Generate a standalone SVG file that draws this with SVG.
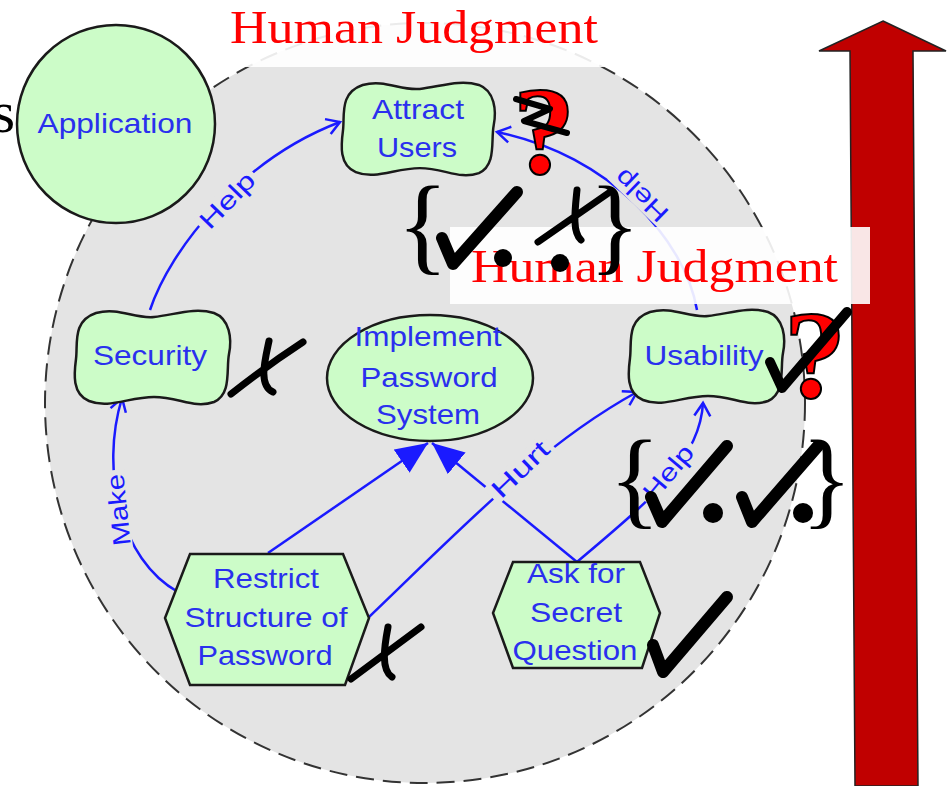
<svg xmlns="http://www.w3.org/2000/svg" xmlns:xlink="http://www.w3.org/1999/xlink" width="948" height="786" viewBox="0 0 948 786">
<defs>
<style>
.nt{font-family:"Liberation Sans",Arial,sans-serif;font-size:28px;fill:#2a30ee;text-anchor:middle;}
.lb{font-family:"Liberation Sans",Arial,sans-serif;font-size:25px;fill:#1a1aff;text-anchor:middle;}
.lbg{fill:#e4e4e4;}
.hj{font-family:"Liberation Serif","Times New Roman",serif;font-size:47px;fill:#ff0000;}
.q{font-family:"Liberation Serif","Times New Roman",serif;font-weight:bold;font-size:125px;fill:#ff0000;stroke:#000;stroke-width:2;text-anchor:middle;}
.br{font-family:"Liberation Serif","Times New Roman",serif;font-size:107px;fill:#000;}
.mk{fill:none;stroke:#000;stroke-linecap:round;stroke-linejoin:round;}
.cn{fill:none;stroke:#1a1aff;stroke-width:2.5;}
.node{fill:#ccfcc8;stroke:#1a1a1a;stroke-width:2.5;}
.box{fill:#ffffff;opacity:0.9;}
</style>
<path id="softgoal" d="M22,4 C45,-2 60,10 80,8 C100,6 120,-2 140,4 C156,10 158,30 155,45 C152,60 158,85 140,93 C120,100 105,88 80,88 C55,88 35,100 15,92 C-2,85 0,65 2,50 C4,35 -2,12 22,4 Z"/>
<marker id="open" viewBox="0 0 14 16" refX="13" refY="8" markerWidth="14" markerHeight="16" markerUnits="userSpaceOnUse" orient="auto" overflow="visible">
<path d="M0,0 L13,8 L0,16" fill="none" stroke="#1a1aff" stroke-width="2.5"/>
</marker>
<marker id="tri" viewBox="0 0 32 28" refX="32" refY="14" markerWidth="32" markerHeight="28" markerUnits="userSpaceOnUse" orient="auto">
<path d="M0,0 L32,14 L0,28 Z" fill="#1a1aff"/>
</marker>
</defs>

<rect x="0" y="0" width="948" height="786" fill="#ffffff"/>

<g id="boundary">
<circle cx="425" cy="403" r="380" fill="#e4e4e4" stroke="#333" stroke-width="2" stroke-dasharray="18 9"/>
</g>

<g id="scale-arrow">
<polygon points="883,21 946,51 913,51 918,786 855,786 850,51 819,51" fill="#c00000" stroke="#222" stroke-width="1.5"/>
</g>

<g id="connectors">
<path class="cn" d="M150,310 C170,250 240,160 340,122" marker-end="url(#open)"/>
<path class="cn" d="M697,310 C685,240 610,155 497,132" marker-end="url(#open)"/>
<path class="cn" d="M178,592 C120,560 100,470 122,398" marker-end="url(#open)"/>
<path class="cn" d="M369,617 C460,530 540,445 637,392" marker-end="url(#open)"/>
<path class="cn" d="M577,562 C650,500 700,460 703,403" marker-end="url(#open)"/>
<path class="cn" d="M268,553 L428,443" marker-end="url(#tri)"/>
<path class="cn" d="M577,562 L432,443" marker-end="url(#tri)"/>
<g transform="translate(227,200) rotate(-46)"><rect class="lbg" x="-38" y="-11" width="76" height="22"/><text class="lb" x="0" y="9" textLength="68" lengthAdjust="spacingAndGlyphs">Help</text></g>
<g transform="translate(641,196) rotate(-136)"><rect class="lbg" x="-36" y="-11" width="72" height="22"/><text class="lb" x="0" y="9" textLength="64" lengthAdjust="spacingAndGlyphs">Help</text></g>
<g transform="translate(118,510) rotate(-96)"><rect class="lbg" x="-40" y="-11" width="80" height="22"/><text class="lb" x="0" y="9" textLength="72" lengthAdjust="spacingAndGlyphs">Make</text></g>
<g transform="translate(520,469) rotate(-44)"><rect class="lbg" x="-40" y="-11" width="80" height="22"/><text class="lb" x="0" y="9" textLength="70" lengthAdjust="spacingAndGlyphs">Hurt</text></g>
<g transform="translate(668,472) rotate(-50)"><rect class="lbg" x="-37" y="-11" width="74" height="22"/><text class="lb" x="0" y="9" textLength="64" lengthAdjust="spacingAndGlyphs">Help</text></g>
</g>

<g id="attract-users">
<use xlink:href="#softgoal" class="node" transform="translate(341,81) scale(0.985,0.99)"/>
<text class="nt" x="418" y="119" textLength="92" lengthAdjust="spacingAndGlyphs">Attract</text>
<text class="nt" x="417" y="157" textLength="80" lengthAdjust="spacingAndGlyphs">Users</text>
</g>

<g id="security">
<use xlink:href="#softgoal" class="node" transform="translate(74,309)"/>
<text class="nt" x="150" y="365" textLength="114" lengthAdjust="spacingAndGlyphs">Security</text>
</g>

<g id="usability">
<use xlink:href="#softgoal" class="node" transform="translate(628,308)"/>
<text class="nt" x="704" y="365" textLength="119" lengthAdjust="spacingAndGlyphs">Usability</text>
</g>

<g id="implement-password-system">
<ellipse class="node" cx="430" cy="378" rx="103" ry="63"/>
<text class="nt" x="428" y="346" textLength="147" lengthAdjust="spacingAndGlyphs">Implement</text>
<text class="nt" x="429" y="387" textLength="137" lengthAdjust="spacingAndGlyphs">Password</text>
<text class="nt" x="428" y="424" textLength="104" lengthAdjust="spacingAndGlyphs">System</text>
</g>

<g id="restrict-structure">
<polygon class="node" points="190,554 343,554 369,618 345,685 190,685 165,618"/>
<text class="nt" x="266" y="588" textLength="106" lengthAdjust="spacingAndGlyphs">Restrict</text>
<text class="nt" x="266" y="627" textLength="163" lengthAdjust="spacingAndGlyphs">Structure of</text>
<text class="nt" x="265" y="665" textLength="135" lengthAdjust="spacingAndGlyphs">Password</text>
</g>

<g id="ask-secret-question">
<polygon class="node" points="513,562 640,562 660,613 642,668 513,668 493,613"/>
<text class="nt" x="576" y="583" textLength="98" lengthAdjust="spacingAndGlyphs">Ask for</text>
<text class="nt" x="576" y="622" textLength="92" lengthAdjust="spacingAndGlyphs">Secret</text>
<text class="nt" x="575" y="660" textLength="125" lengthAdjust="spacingAndGlyphs">Question</text>
</g>

<g id="application">
<circle cx="116" cy="124" r="99" fill="#ccfcc8" stroke="#1a1a1a" stroke-width="2.5"/>
<text class="nt" x="115" y="133" textLength="155" lengthAdjust="spacingAndGlyphs">Application</text>
</g>

<text x="15" y="132" font-family="Liberation Serif, serif" font-size="60" fill="#000" text-anchor="end">s</text>

<g id="judgment-top">
<rect class="box" x="225" y="0" width="385" height="67"/>
<text class="hj" x="230" y="43" textLength="368" lengthAdjust="spacingAndGlyphs">Human Judgment</text>
</g>

<g id="judgment-mid">
<rect class="box" x="450" y="227" width="420" height="77"/>
<text class="hj" x="471" y="282" textLength="367" lengthAdjust="spacingAndGlyphs">Human Judgment</text>
</g>

<g id="marks">
<text class="q" x="544" y="173">?</text>
<path class="mk" stroke-width="6" d="M516,99 L550,109 L524,121 L567,133"/>
<text class="q" x="815" y="397">?</text>
<path class="mk" stroke-width="10" d="M770,362 L782,388 L847,312"/>

<path class="mk" stroke-width="7" d="M231,394 C255,375 280,357 303,342 M269,341 C265,360 258,385 273,392"/>
<path class="mk" stroke-width="7" d="M351,679 L421,627 M388,627 C384,648 381,670 392,677"/>
<path class="mk" stroke-width="12" d="M653,645 L663,672 L727,597"/>

<text class="br" x="397" y="261">{</text>
<path class="mk" stroke-width="12" d="M442,238 L453,264 L517,192"/>
<circle cx="503" cy="258" r="9"/>
<path class="mk" stroke-width="7" d="M538,242 L610,192 M577,190 C575,210 572,232 581,240"/>
<circle cx="560" cy="263" r="9"/>
<text class="br" x="589" y="261">}</text>

<text class="br" x="609" y="515">{</text>
<path class="mk" stroke-width="12" d="M651,497 L662,522 L727,446"/>
<circle cx="713" cy="513" r="10"/>
<path class="mk" stroke-width="12" d="M742,497 L752,522 L818,446"/>
<circle cx="803" cy="513" r="10"/>
<text class="br" x="801" y="515">}</text>
</g>
</svg>
